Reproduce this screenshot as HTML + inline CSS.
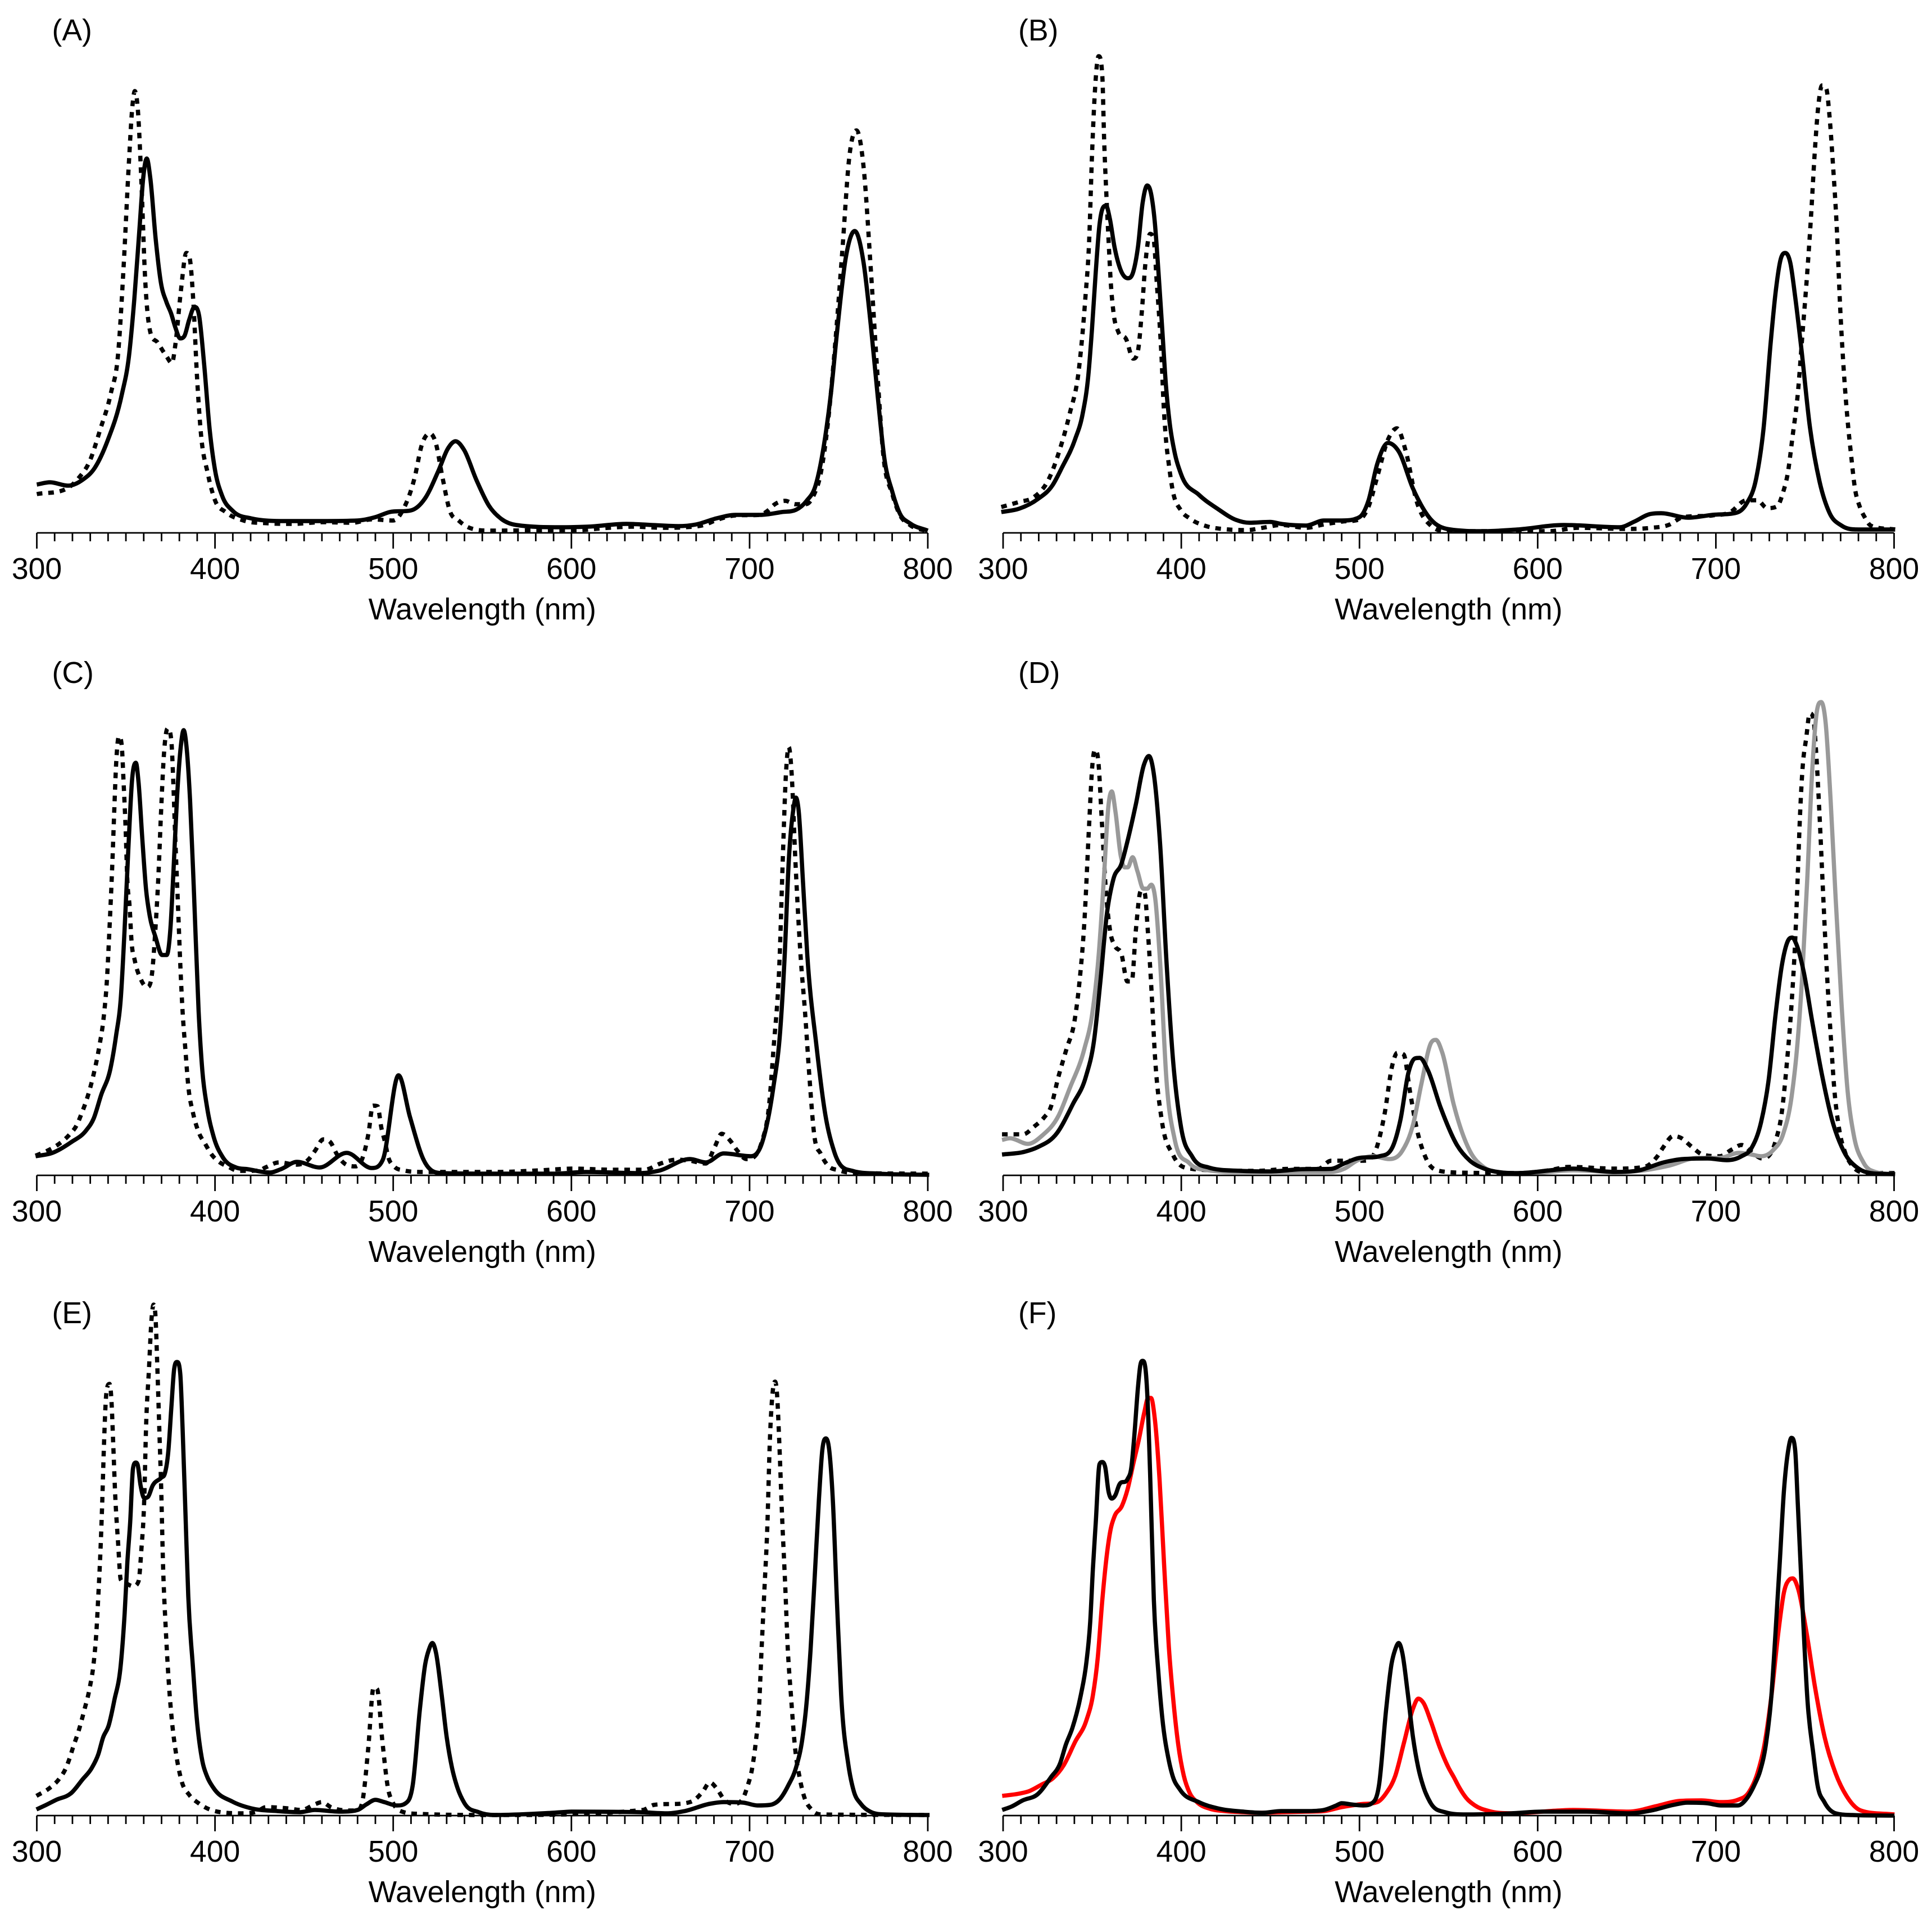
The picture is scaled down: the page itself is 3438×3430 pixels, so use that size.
<!DOCTYPE html>
<html lang="en">
<head>
<meta charset="utf-8">
<title>Spectra panels A-F</title>
<style>
html,body{margin:0;padding:0;background:#fff;}
svg{display:block;}
text{font-family:"Liberation Sans",Arial,sans-serif;font-size:53.5px;fill:#000;}
</style>
</head>
<body>
<svg id="chart" xmlns="http://www.w3.org/2000/svg" width="3438" height="3430" viewBox="0 0 3438 3430"></svg>
<script>
const xTickLabels = [300,400,500,600,700,800];
const minorStep = 10;
const xDomain = [300,800];

const solidA = [[300,86],[307.4,90],[317.5,84],[325.5,94],[332.6,116],[339.6,163],[347.7,246],[351.7,314],[354.7,415],[357.7,545],[359.7,631],[361.7,666],[363.7,631],[366.7,523],[369.7,444],[372.7,411],[375.4,390],[377.8,365],[380.4,346],[382.8,350],[385.5,379],[388.5,402],[391.1,386],[393.9,300],[397,184],[400,112],[404,66],[410,39],[420,26],[440,21],[460,21],[480,22],[490,28],[498,37],[510,40],[518,62],[525.6,112],[530.7,150],[535,163],[539.7,148],[546.7,94],[553.8,48],[560.8,24.5],[569,14],[594.7,10],[609,11],[631,16],[645,14],[660,12],[670,15],[681.6,26],[692,32],[706,32],[718,37],[726,41],[732,57],[737,84],[742.4,170],[745.6,247],[749,355],[754,490],[759,537],[764,480],[768,370],[772,240],[775.7,131],[780,74],[784.4,34],[790,17],[800,4]];
const dashedA = [[300,69],[317.5,80],[323.6,98],[329.6,127],[335.6,184],[341.6,249],[345.7,321],[348.7,473],[351.7,660],[353.7,761],[355,786],[356.7,753],[358.7,624],[360.7,458],[363.7,357],[367.7,339],[372.8,314],[375.8,302],[377.8,336],[380.8,429],[383.9,498],[385.9,487],[387.9,408],[389.9,278],[391.9,184],[396,105],[400,58],[406,37],[416,22],[430,17],[444,16],[460,19],[477,18],[488,24],[500,22],[506,44],[512,98],[516,156],[520.6,177],[523.6,163],[527.7,98],[531.7,40],[536.7,22],[542.8,9],[555,4],[594.7,5],[603.4,5],[620.8,9],[634,11],[652.6,9],[664,10],[674.4,14],[681.6,23],[692,31],[706,32],[710,39],[714.2,51],[720,57],[725.8,51],[731.6,51],[736,67],[740,107],[744,197],[748,335],[752,500],[756,670],[760,716],[764,650],[768,470],[772,270],[775,140],[780,70],[784,34],[790,14],[800,3]];

const solidB = [[299,37],[309,43],[319.4,60],[327.8,85],[333,116],[340.4,166.5],[344.6,211],[347.8,279],[349.9,363],[352,464],[354.1,548],[355.7,576],[357.8,582],[359.9,559],[362.5,509],[365.7,470],[369.9,453],[373,464],[375.7,509],[378.3,587],[380.9,618],[383,604],[385.1,554],[387.2,464],[389.3,363],[391.4,262],[393.5,195],[396.2,144],[399.8,105],[409.8,68],[420.3,43],[430.8,23],[438.2,18],[449.8,19.5],[456,16],[470,13],[480,22],[490,22],[500,28],[505,57],[510,123],[516,160],[522,145],[530,79],[540,24],[550,6.5],[570,3],[588.6,6],[614.6,14],[646,10],[654.2,20],[662.5,33],[669.3,35],[684.3,27],[698,32],[711.7,36],[717.2,52],[722.6,96.5],[726.7,184],[730.8,340],[733.6,430],[736.3,486],[739,498],[741.8,480],[744.5,420],[748,327],[752.7,190],[758.2,91],[763.7,36],[770.5,13],[780,6],[800.6,6]];
const dashedB = [[299,46],[309,55],[317,63],[325.7,96],[332,150],[337.3,211],[342.5,290],[346.2,419],[348.3,520],[349.9,672],[351.5,784],[353.6,848],[355.7,812],[356.7,700],[358,599],[359.2,520],[360.4,447],[362,391],[364.6,358],[369,345],[373,310],[375.7,324],[377.8,391],[379.9,481],[382.5,532],[384.6,520],[386.2,447],[387.8,374],[389,307],[389.9,239.5],[391.4,166.5],[393,122],[395.1,77],[399.8,40],[404.6,26],[414,12],[424.5,6.6],[437,5],[445.6,9],[456,14],[470,9],[480,15],[490,20],[500,24],[505,46],[510,100],[516,166],[521,186],[526,145],[532,57],[540,13],[550,3],[588.6,3],[606.4,3],[622.8,9],[650,7],[663.8,9],[673.4,14],[681.6,28],[698,31],[707.6,36],[717.2,58],[723.3,58],[728.8,44],[734.3,47],[737.7,72],[740.4,107],[743.1,173],[745.9,245],[748.6,354],[751.3,464],[753.4,563],[755.4,672.5],[757.5,760],[759.6,796],[762,790],[763.7,744],[765.7,656],[767.8,546],[769.8,398],[771.9,283],[773.9,201],[776,135],[778,80],[780.7,47],[783.5,28],[786.9,13],[800.6,6]];

const solidC = [[299.3,34],[308.8,40],[319.3,59],[327.7,80],[331.9,101],[336.1,143],[341.4,191],[344.5,249],[347.2,318],[349.3,440],[351.4,583],[353.5,705],[355.6,734],[357.1,699],[359.2,599],[361.3,509],[363.4,461],[366.6,424],[370.3,392],[372.9,392],[375,440],[376.6,535],[378.7,673],[380.8,763],[382.4,792],[384,763],[386,667.5],[388.2,503],[390.8,292],[392.9,186],[395.5,122],[399.2,69],[404.4,32],[411.8,14],[418.2,11],[430.8,5],[437,11],[446,24],[458.7,14],[473.9,40],[487.9,13],[494.2,28],[503,178],[509.4,104],[517,28],[527,4],[557.6,3],[590.5,3],[608.2,6],[638.6,4],[648.8,8],[666.5,29],[675.4,23],[685.5,39],[700.7,34],[707,58],[713.4,158],[717.2,258],[719.7,391],[722,560],[724.5,650],[726,672],[727.5,650],[730,520],[732.4,391],[737.5,231],[742.5,108],[747.6,41],[757.7,8],[773,3],[800.8,1]];
const dashedC = [[299.3,35],[306.7,45],[312.5,56],[318.2,72],[322.5,90],[325,109],[328.8,143],[331.9,180],[335,228],[337.7,286],[339.3,345],[340.8,440],[342.4,556],[343.5,652],[344.5,731],[346.1,781],[347.7,763],[348.7,699],[349.8,620],[350.8,525],[352.1,477],[353.1,419],[355,382],[358.2,350],[361.9,335],[364.5,355],[366.6,440],[368.2,530],[369.8,652],[371.3,747],[373.4,795],[375.5,773],[376.6,699],[377.6,609],[379.2,482],[380.8,355],[381.8,292],[383.4,223],[385,159],[387.6,112],[390.8,77],[394.5,56],[398.1,37],[402.3,24],[407.6,15],[413,8],[424.4,8.4],[428.3,14],[436,23],[446,19],[452.4,28],[456.2,44],[460.7,64],[465,58],[468.3,38],[472.7,21],[479,16],[482.8,31],[486.1,74],[488.6,124],[491.2,123],[493.4,84],[495.5,58],[497.2,33],[500.5,16],[505.6,9],[517,6],[529.7,6],[557.6,6],[583,9],[600.6,12],[623.4,10],[641,10],[650,21],[659,28],[666.5,26],[675.4,21],[680.5,51],[684.3,74],[689.3,61],[693.1,44],[698.2,29],[707,61],[710.9,124],[713.4,224],[716.9,391],[718.6,560],[720.5,720],[722,762],[723.5,720],[725.7,560],[728.6,391],[731.1,291],[733.6,174],[736.2,74],[740,38],[743.8,18],[750,9],[760.3,4],[800.8,3]];

const dashedD = [[299.4,73],[311.2,73],[317.5,87],[323,103],[326.6,120],[331.1,176],[335.6,225],[340.1,275],[342.9,345],[345.6,450],[348.3,625],[350.1,730],[351.5,757],[353.4,738],[355.5,625],[357.7,506],[360,436],[362.8,408],[366.4,394],[369.7,345],[372.2,345],[374.5,436],[377.3,506],[379.4,503],[381.2,436],[383,345],[385.4,204],[389,99],[395.4,36],[406.2,11.5],[420.7,9],[442.4,8],[460.5,11.5],[476.8,11.5],[484,26],[502.2,26],[508.5,40],[513.9,106],[518.5,197],[521.2,218],[524.8,215],[528.4,148],[532,85],[537.5,29],[544.7,8],[562,4.5],[588.6,4],[606.4,9],[617.3,15],[643.3,12],[659.7,15],[667.2,34],[670.7,51],[676.1,70],[680.2,67],[686.4,51],[692.5,37],[702.1,34],[709,46],[714.4,54],[720.6,40],[726,30],[733.6,62],[737,112],[739.7,195],[742.5,306],[744.5,417],[745.9,528],[747.2,639],[748.6,722],[750.7,778],[752.7,822],[754.8,811],[756.1,761],[758.2,639],[760.2,500],[762.3,362],[764.4,251],[766.4,156],[769.1,84],[772.6,40],[776.6,17],[782.8,5],[800.6,4]];
const grayD = [[299.4,63],[303.9,66],[313.9,56],[322,71],[331.1,106],[337.4,155],[345.6,225],[350.1,289],[353.7,394],[356.4,520],[359.2,660],[361,683],[363.1,646],[366,569],[368.2,548],[370,548],[372.7,566],[375.4,541],[378.7,510],[380.9,510],[383.2,517],[385.4,492],[388.1,380],[391.7,169],[396.3,64],[404.4,22],[415.3,9],[433.4,6],[460.5,6],[484,6],[491.3,11.5],[498.5,26],[507.6,34],[516.6,29],[523.9,43],[530.2,92],[534.7,162],[540.2,236],[542.9,241],[546.5,218],[552.8,127],[562,43],[570,14],[580,5],[588.6,2],[620,9],[643.3,6],[659.7,9],[673.4,17],[689.8,31],[702.1,31],[713,40],[720,37],[725.4,34],[732.2,45],[737.7,73],[742.5,140],[745.9,239],[748.6,362],[751.3,528],[754.1,722],[756.8,828],[759.1,842],[761.6,805],[764.4,667],[767.1,500],[770.5,306],[773.9,151],[777.3,73],[782.8,23],[789.6,6],[800.6,2]];
const solidD = [[299.4,37],[312.1,42],[319.3,50],[330.2,75],[339.2,127],[346.5,176],[351,239],[354.6,345],[358.2,464],[361.9,527],[366.4,554],[370,597],[374.5,660],[379,730],[381.8,746],[384.5,716],[388.1,590],[391.7,380],[395.4,204],[399.9,85],[406.2,33],[415.3,14],[433.4,8],[449.7,7],[467.8,11],[484,11.5],[491.3,21],[498.5,30],[511.2,34],[518.5,50],[523,99],[527.5,183],[531.1,208],[533.8,209],[538.4,187],[545.6,120],[554.7,54],[562,26],[570,12],[580,5],[588.6,4],[620,12],[643.3,6],[657,9],[670.7,23],[681.6,29],[695.3,30],[706.2,27],[714.4,34],[719.9,48],[725.4,95],[729.5,167],[733.6,289],[737,373],[740.4,417],[742.9,423],[745.2,411],[749.3,362],[754.1,273],[759.6,178],[765,101],[771.9,42],[780.1,12],[786.9,4],[800.6,2]];

const solidE = [[299.8,11],[304.6,18],[310.9,28],[319.3,40],[325.6,64],[330.9,85],[334.5,109],[337.2,139],[340.3,160],[343.5,205],[347.2,271],[349.3,360],[350.8,450],[352.4,522],[354,618],[355.6,628],[356.6,624],[358.2,588],[360.3,565],[362.4,567],[365,587],[369.8,601],[371.9,609],[373.8,648],[375.5,726],[377.1,795],[378.7,807],[380.5,786],[381.8,690],[383.4,540],[385,390],[387.6,265],[389.7,175],[392.9,97],[395.5,70],[399.2,49],[409.7,25],[420.2,13],[435,8],[447.5,6],[456,10],[470,7],[480,10],[485,20],[490,28],[495,24],[502,18],[507,22],[511,55],[515,190],[518,270],[520,295],[522,307],[524,290],[527,220],[530,140],[533,85],[536,50],[540,22],[548,6],[556.9,1],[589.8,5],[600.8,7],[638.5,6],[654.2,4],[663.6,8],[677.7,21],[685.6,24],[696.5,23],[704.4,18],[711.4,19],[716.9,29],[721.6,53],[726.3,88],[729.5,134],[731.9,198],[734.2,294],[736.6,428],[738.9,562],[740.8,650],[742.8,671],[744.7,650],[746.7,562],[749.1,375],[751.4,214],[755.4,91],[758.5,43],[762.4,21],[767.1,8],[776.5,2],[801,1]];
const dashedE = [[299.8,35],[307.2,49],[312.5,65],[316.1,83],[318.2,100],[320.3,121],[323.5,151],[326.6,187],[329.8,229],[331.9,271],[333.5,330],[334.5,390],[335.6,462],[336.6,546],[337.7,660],[338.7,738],[339.8,765],[340.8,768],[341.9,738],[342.9,660],[344,570],[345.6,486],[347.1,420],[350.3,413],[354,408],[357.1,417],[358.7,474],[360.3,564],[361.3,690],[362.9,792],[364.5,888],[365.5,909],[366.6,888],[367.7,792],[368.9,672],[369.8,582],[370.8,450],[372.4,330],[374,240],[376,163],[378.2,109],[381.3,61],[385.5,37],[390.8,22],[401.3,7],[417,4],[423.4,7],[428.6,15],[440.2,13],[448.6,10],[456,20],[460,24],[465,15],[475,9],[480,10],[483,30],[486,120],[489,228],[491,225],[494,130],[497,50],[500,22],[505,7],[515,3],[556.9,1],[640,10],[646.3,19],[663.6,22],[669.1,28],[673.8,43],[677.7,59],[681.6,48],[685.6,29],[691.1,21],[696.5,32],[698.9,53],[701.2,80],[703.6,134],[705.2,187],[706.7,294],[708.3,401],[709.9,509],[711.4,669],[713,755],[714.3,772],[715.4,750],[716.6,669],[718.2,535],[720.1,401],[721.3,305],[723.2,214],[725.6,118],[728,69],[730.3,37],[735,10],[740.5,2],[801,1]];

const redF = [[299.5,35],[308.9,39],[314.2,43],[321.5,55],[327.8,66],[334.1,90],[340.4,131],[346.8,170],[350.4,214],[353.1,280],[355.7,384],[358.3,466],[360.4,510],[362.5,532],[366.7,551],[369.9,581],[373,625],[376.2,669],[379.3,718],[381.4,743],[383,743],[385.1,707],[387.8,598],[390.4,444],[393,301],[395.6,203],[398.3,126],[401.4,71],[404.6,41],[408.8,24],[416.1,12],[424.5,8],[435,6],[445.6,5],[456,6],[470,7],[480,8],[490,15],[500,20],[510,24],[515,40],[520,70],[525,130],[530,190],[533,208],[536,200],[540,168],[545,122],[550,85],[553,68],[556,50],[560,31],[564.8,18],[572.7,8],[585.2,4],[611.9,9],[619.8,10],[651.1,7],[666.8,17],[679.4,26],[691.9,27],[702.9,24],[712.3,28],[718.6,42],[723.3,75],[727.2,125],[731.1,211],[735.1,327],[738.2,397],[741.3,420],[743.2,422],[746,405],[750.8,327],[755.5,231],[761,140],[767.2,75],[773.5,34],[781.4,9],[800.2,2]];
const blackF = [[299.5,10],[304.7,16],[311,27],[319.4,38],[326.8,68],[332,93],[335.2,126],[338.9,156],[343.6,214],[346.8,274],[348.9,345],[350.4,439],[352,521],[354.1,625],[355.7,629],[357.3,620],[359.2,576],[361,564],[363,570],[365.1,588],[369.9,599],[372,620],[373.6,674],[375.7,762],[377,801],[378.3,809],[379.9,795],[380.9,751],[382.5,609],[384.6,384],[387.2,252],[389.3,175],[393,98],[395.1,71],[399.3,46],[409.8,24],[420.3,13],[435,7],[445.6,5],[456,8],[470,8],[480,10],[487,18],[490,22],[495,20],[502,18],[507,22],[511,55],[515,190],[518,270],[520,295],[522,307],[524,290],[527,220],[530,140],[533,85],[536,50],[540,22],[548,6],[560,2],[585.2,4],[602.5,7],[627.6,7],[651.1,4],[663.7,9],[676.2,19],[684.1,23],[695,22],[702.9,18],[712.3,18],[717,29],[721.7,55],[724.9,80],[728,125],[731.1,211],[733.5,327],[735.9,453],[738.2,578],[740.6,650],[742.4,672],[744.5,650],[746,553],[748.4,387],[751.5,201],[754.7,110],[757,55],[760.9,24],[767.2,4],[776.6,1],[800.2,0]];

const svgNS = 'http://www.w3.org/2000/svg';
const chart = document.getElementById('chart');

const panelLeft = [65.5, 1785];
const panelBase = [948, 2091, 3230];
const panelWidth = 1585.5;
const strokeSolid = 7.5;

const panels = [
  {label:'(A)', col:0, row:0, series:[{name:'dashed',d:dashedA},{name:'solid',d:solidA}]},
  {label:'(B)', col:1, row:0, series:[{name:'dashed',d:dashedB},{name:'solid',d:solidB}]},
  {label:'(C)', col:0, row:1, series:[{name:'dashed',d:dashedC},{name:'solid',d:solidC}]},
  {label:'(D)', col:1, row:1, series:[{name:'dashed',d:dashedD},{name:'gray',d:grayD,color:'#999999'},{name:'solid',d:solidD}]},
  {label:'(E)', col:0, row:2, series:[{name:'dashed',d:dashedE},{name:'solid',d:solidE}]},
  {label:'(F)', col:1, row:2, series:[{name:'red',d:redF,color:'#ff0000'},{name:'black',d:blackF}]}
];

function xScale(nm, col){
  return panelLeft[col] + (nm - xDomain[0]) / (xDomain[1] - xDomain[0]) * panelWidth;
}
function yScale(v, row){
  return panelBase[row] - v;
}
function smoothPath(pts){
  const n = pts.length;
  const h = [], s = [], m = new Array(n);
  for(let i=0;i<n-1;i++){
    h[i] = pts[i+1][0]-pts[i][0];
    s[i] = (pts[i+1][1]-pts[i][1])/h[i];
  }
  m[0] = s[0]; m[n-1] = s[n-2];
  for(let i=1;i<n-1;i++){
    if(s[i-1]*s[i] <= 0){ m[i] = 0; }
    else {
      const p = (s[i-1]*h[i]+s[i]*h[i-1])/(h[i-1]+h[i]);
      m[i] = Math.sign(p)*Math.min(Math.abs(p),3*Math.abs(s[i-1]),3*Math.abs(s[i]));
    }
  }
  let d = 'M'+pts[0][0].toFixed(2)+' '+pts[0][1].toFixed(2);
  for(let i=0;i<n-1;i++){
    const dx = h[i]/3;
    d += 'C'+(pts[i][0]+dx).toFixed(2)+' '+(pts[i][1]+m[i]*dx).toFixed(2)+' '+(pts[i+1][0]-dx).toFixed(2)+' '+(pts[i+1][1]-m[i+1]*dx).toFixed(2)+' '+pts[i+1][0].toFixed(2)+' '+pts[i+1][1].toFixed(2);
  }
  return d;
}
function make(tag, attrs, parent){
  const el = document.createElementNS(svgNS, tag);
  for(const k in attrs){ el.setAttribute(k, attrs[k]); }
  parent.appendChild(el);
  return el;
}

panels.forEach(function(p){
  const letter = p.label.charAt(1).toLowerCase();
  const g = make('g', {}, chart);
  
  

  const base = panelBase[p.row];
  const xa = xScale(xDomain[0], p.col);
  const xb = xScale(xDomain[1], p.col);

  const label = make('text', {x: xa + 27, y: base - 876}, g);
  label.textContent = p.label;
  
  

  p.series.forEach(function(s){
    const pts = s.d.map(function(q){ return [xScale(q[0], p.col), yScale(q[1], p.row)]; });
    const path = make('path', {d: smoothPath(pts), fill:'none', stroke: s.color || '#000', 'stroke-width': strokeSolid, 'stroke-linejoin':'round'}, g);
    if(s.name === 'dashed'){ path.setAttribute('stroke-dasharray', '10 10.5'); }
    
    
  });

  const axis = make('line', {x1: xa, x2: xb, y1: base, y2: base, stroke:'#000', 'stroke-width':2.8}, g);
  
  

  for(let nm = xDomain[0]; nm <= xDomain[1]; nm += minorStep){
    const major = xTickLabels.indexOf(nm) >= 0;
    const tx = xScale(nm, p.col);
    const tick = make('line', {x1: tx, x2: tx, y1: base, y2: base + (major ? 28 : 15), stroke:'#000', 'stroke-width':2.8}, g);
    
    
  }
  xTickLabels.forEach(function(v){
    const t = make('text', {x: xScale(v, p.col), y: base + 82, 'text-anchor':'middle'}, g);
    t.textContent = String(v);
    
    
  });
  const title = make('text', {x: (xa + xb) / 2, y: base + 154, 'text-anchor':'middle'}, g);
  title.textContent = 'Wavelength (nm)';
  
  
});
</script>
</body>
</html>
